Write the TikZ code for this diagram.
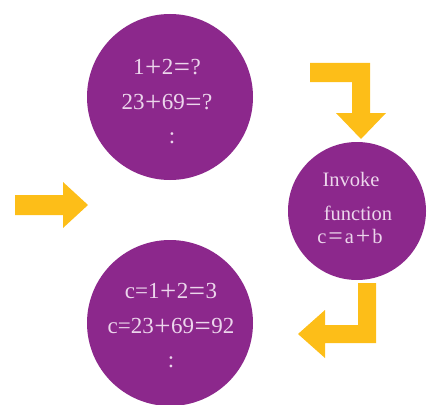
\documentclass[tikz,border=0pt]{standalone}
\usepackage{graphicx}
\usepackage{fontspec}
\setmainfont{Liberation Serif}
\definecolor{cpurple}{RGB}{140,40,140}
\definecolor{cyellow}{RGB}{253,190,24}
\definecolor{ctext}{RGB}{236,214,236}
\newcommand{\bigsym}[1]{\raisebox{-0.07em}{\scalebox{1.25}{#1}}}
\newcommand{\wpl}{\makebox[0.75em]{\bigsym{+}}}
\newcommand{\weq}{\makebox[0.75em]{\bigsym{=}}}
\newcommand{\npl}{\makebox[0.9em]{\bigsym{+}}}
\newcommand{\neqq}{\makebox[0.9em]{\bigsym{=}}}
\begin{document}
\begin{tikzpicture}[x=1pt,y=-1pt,
  bubble/.style={circle,fill=cpurple,inner sep=0pt},
  label/.style={text=ctext,font=\fontsize{23}{25}\selectfont,inner sep=0pt},
  slabel/.style={text=ctext,font=\fontsize{20.5}{22}\selectfont,inner sep=0pt},
  blockarrow/.style={fill=cyellow,draw=none}]
\useasboundingbox (0,0) rectangle (436,404);
\node[bubble,minimum size=166pt] (top) at (170,97) {};
\node[bubble,minimum size=138pt] (right) at (357,211) {};
\node[bubble,minimum size=166pt] (bottom) at (170,323) {};
% top texts
\node[label] (t1) at (167,68) {1\wpl2\weq?};
\node[label] (t2) at (167,103) {23\wpl69\weq?};
\node[label] (t3) at (172,138) {:};
% right texts
\node[slabel] (r1) at (351,179) {Invoke};
\node[slabel] (r2) at (358,213) {function};
\node[slabel] (r3) at (350,237) {c\neqq a\npl b};
% bottom texts
\node[label] (b1) at (171,292) {c=1\wpl2\weq3};
\node[label] (b2) at (171,327) {c=23\wpl69\weq92};
\node[label] (b3) at (171,362) {:};
% arrows
\fill[blockarrow] (310,63) -- (370,63) -- (370,113) -- (386,113) -- (361,139) -- (336,113) -- (352,113) -- (352,82) -- (310,82) -- cycle;
\fill[blockarrow] (376,283) -- (376,343) -- (325,343) -- (325,358) -- (298,334) -- (325,310) -- (325,325) -- (358,325) -- (358,283) -- cycle;
\fill[blockarrow] (15,195) -- (63,195) -- (63,182) -- (88,205) -- (63,228) -- (63,215) -- (15,215) -- cycle;
\end{tikzpicture}
\end{document}
